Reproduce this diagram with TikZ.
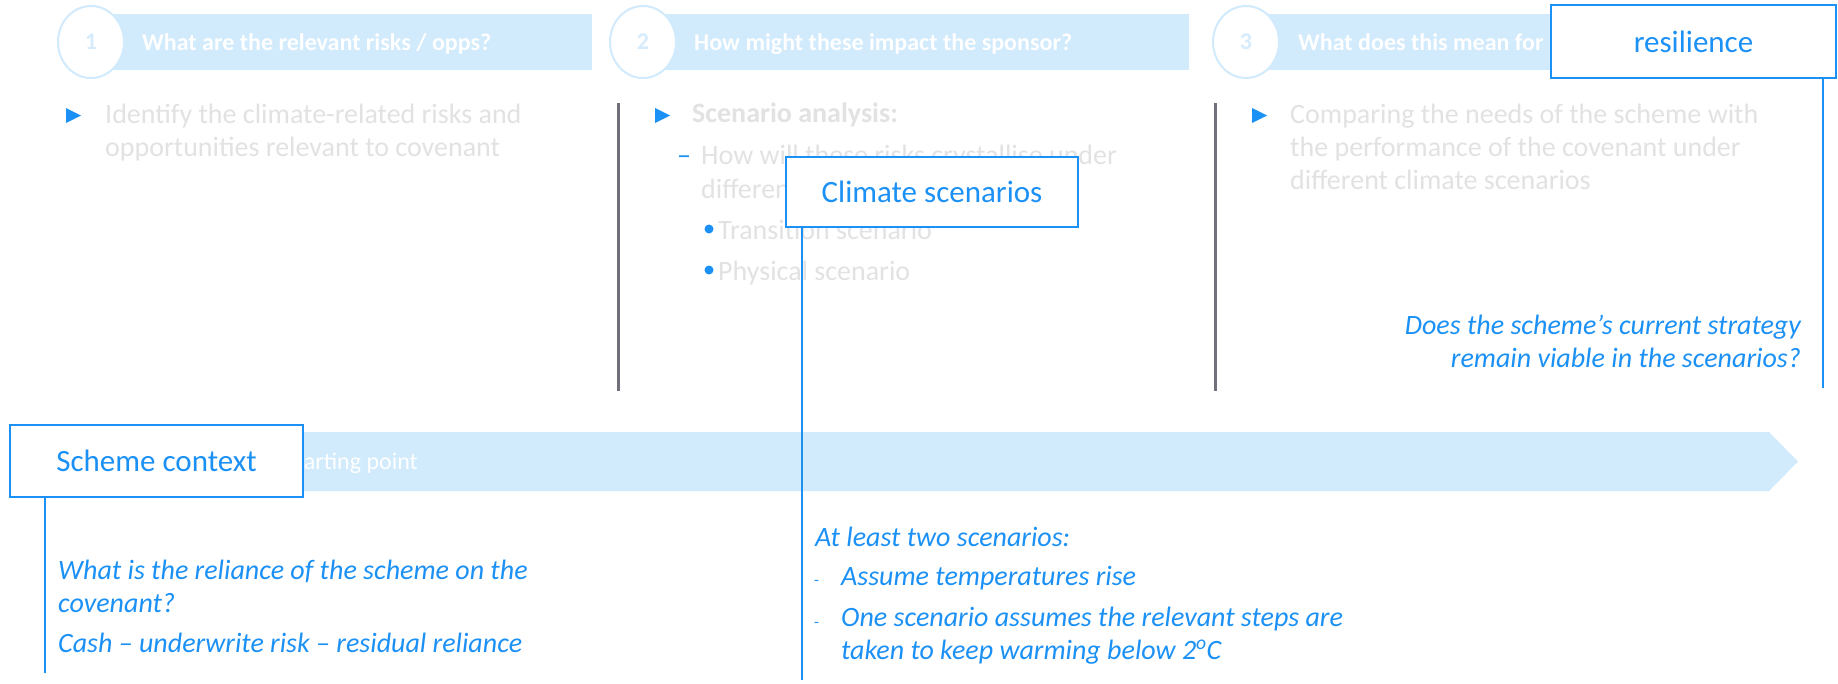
\documentclass[tikz,border=0pt]{standalone}
\usepackage{fontspec}
\setmainfont{Carlito}
\usetikzlibrary{shapes.geometric}
\definecolor{band}{RGB}{209,234,252}
\definecolor{numcol}{RGB}{214,236,252}
\definecolor{pale}{RGB}{226,226,226}
\definecolor{accent}{RGB}{28,145,245}
\definecolor{divgray}{RGB}{112,112,122}
\tikzset{
  stepcircle/.style={ellipse, draw=band, line width=2pt, fill=white,
    minimum width=66pt, minimum height=72pt, inner sep=0pt, text=numcol,
    font=\fontsize{24}{28}\selectfont\bfseries},
  headtext/.style={anchor=base west, inner sep=0pt, text=white,
    font=\fontsize{24}{28}\selectfont\bfseries},
  bodytext/.style={anchor=base west, inner sep=0pt, align=left, text=pale,
    font=\fontsize{28}{33}\selectfont},
  notetext/.style={anchor=base west, inner sep=0pt, align=left, text=accent,
    font=\fontsize{28}{32.5}\selectfont\itshape},
  labelbox/.style={rectangle, draw=accent, line width=2.5pt, fill=white,
    text=accent, font=\fontsize{31}{36}\selectfont, inner sep=0pt},
  divider/.style={draw=divgray, line width=3pt},
  leader/.style={draw=accent, line width=2pt},
  tri/.style={fill=accent},
}
\begin{document}
\begin{tikzpicture}[x=1pt,y=-1pt]
\fill[white] (0,0) rectangle (1838,683);
\useasboundingbox (0,0) rectangle (1838,683);

% header bands and numbered steps
\fill[band] (91,14) rectangle (592,70);
\fill[band] (643,14) rectangle (1189,70);
\fill[band] (1246,14) rectangle (1700,70);
\node[stepcircle] (c1) at (91,42) {1};
\node[stepcircle] (c2) at (643,42) {2};
\node[stepcircle] (c3) at (1246,42) {3};
\node[headtext] (h1) at (142,50) {What are the relevant risks / opps?};
\node[headtext] (h2) at (694,50) {How might these impact the sponsor?};
\node[headtext] (h3) at (1298,50) {What does this mean for};

% column dividers
\draw[divider] (618,103) -- (618,391);
\draw[divider] (1215,103) -- (1215,391);

% column 1 (multi-line nodes are placed by the baseline of their last line)
\fill[tri] (66,108) -- (81,115.5) -- (66,123) -- cycle;
\node[bodytext] (b1) at (105,156) {Identify the climate-related risks and\\opportunities relevant to covenant};

% column 2
\fill[tri] (655,108) -- (670,115.5) -- (655,123) -- cycle;
\node[bodytext, font=\fontsize{28}{33}\selectfont\bfseries] (b2) at (692,122) {Scenario analysis:};
\node[bodytext, text=accent] (d2) at (677,164) {–};
\node[bodytext, font=\fontsize{28}{34}\selectfont] (b2a) at (701,198) {How will these risks crystallise under\\different climate scenarios?};
\fill[accent] (709,229) circle (4.5);
\fill[accent] (709,270) circle (4.5);
\node[bodytext] (b2b) at (718,239) {Transition scenario};
\node[bodytext] (b2c) at (718,280) {Physical scenario};

% column 3
\fill[tri] (1252,108) -- (1267,115.5) -- (1252,123) -- cycle;
\node[bodytext] (b3) at (1290,189) {Comparing the needs of the scheme with\\the performance of the covenant under\\different climate scenarios};
\node[notetext, anchor=base east, align=right] (q3) at (1801,367) {Does the scheme’s current strategy\\remain viable in the scenarios?};

% timeline arrow
\fill[band] (30,432) -- (1769,432) -- (1798,461.5) -- (1769,491) -- (30,491) -- cycle;
\node[headtext, font=\fontsize{24}{28}\selectfont] (sp) at (285,469) {Starting point};

% callout boxes
\node[labelbox, minimum width=285pt, minimum height=73pt] (res) at (1693.5,41.5) {resilience};
\node[labelbox, minimum width=292pt, minimum height=70pt] (clim) at (932,192) {Climate scenarios};
\node[labelbox, minimum width=293pt, minimum height=72pt] (ctx) at (156.5,461) {Scheme context};

% leader lines
\coordinate (resend) at (1823,388);
\coordinate (climend) at (802,680);
\coordinate (ctxend) at (45,673);
\draw[leader] (res.south -| resend) -- (resend);
\draw[leader] (clim.south -| climend) -- (climend);
\draw[leader] (ctx.south -| ctxend) -- (ctxend);

% annotations
\node[notetext] (n1) at (58,612) {What is the reliance of the scheme on the\\covenant?};
\node[notetext] (n2) at (58,652) {Cash – underwrite risk – residual reliance};
\node[notetext] (n3) at (815,546) {At least two scenarios:};
\node[notetext, font=\fontsize{16}{20}\selectfont] (m1) at (814,585) {-};
\node[notetext] (n4) at (841,585) {Assume temperatures rise};
\node[notetext, font=\fontsize{16}{20}\selectfont] (m2) at (814,627) {-};
\node[notetext] (n5) at (841,659) {One scenario assumes the relevant steps are\\taken to keep warming below 2\textsuperscript{o}C};
\end{tikzpicture}
\end{document}
